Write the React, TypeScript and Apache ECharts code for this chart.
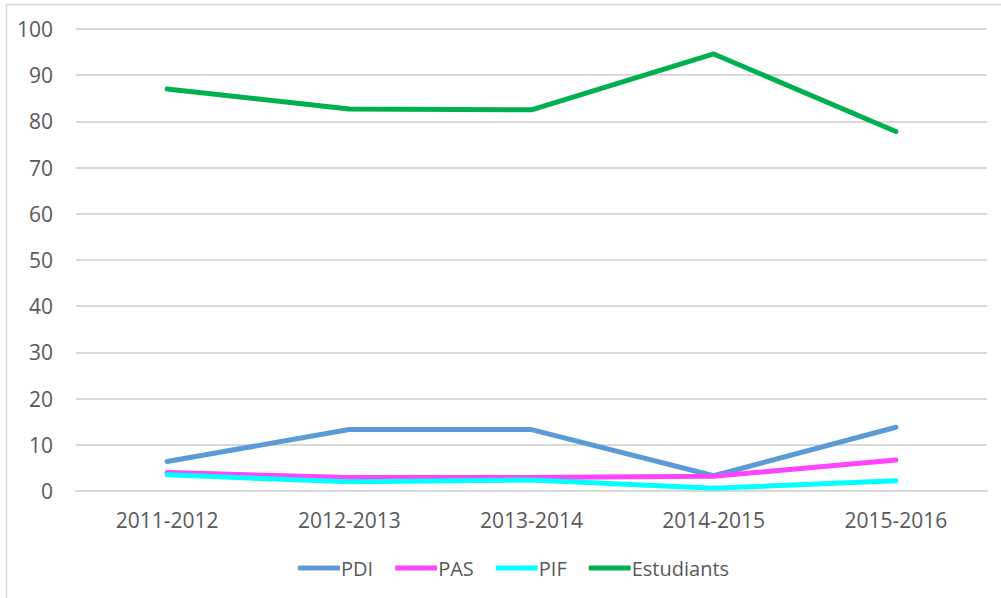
import React, { useEffect, useRef } from "react";
import * as echarts from "echarts";

const categories = ["2011-2012", "2012-2013", "2013-2014", "2014-2015", "2015-2016"];
const pdi = [6.4, 13.3, 13.3, 3.3, 13.8];
const pas = [4.0, 2.9, 2.9, 3.2, 6.7];
const pif = [3.5, 2.0, 2.4, 0.6, 2.2];
const estudiants = [87.0, 82.7, 82.5, 94.6, 77.8];
const seriesNames = ["PDI", "PAS", "PIF", "Estudiants"];
const seriesColors = ["#5b9bd5", "#ff44ff", "#00ffff", "#00b050"];

const FONT = "'Open Sans', sans-serif";

export default function App() {
  const ref = useRef<HTMLDivElement>(null);
  useEffect(() => {
    if (!ref.current) return;
    const chart = echarts.init(ref.current, null, { renderer: "svg" });
    const values = [pdi, pas, pif, estudiants];
    chart.setOption({
      animation: false,
      backgroundColor: "#ffffff",
      textStyle: { fontFamily: FONT },
      graphic: [
        {
          type: "rect",
          shape: { x: 6.5, y: 4.5, width: 1200, height: 800 },
          style: { fill: "none", stroke: "#d9d9d9", lineWidth: 1.5 },
          silent: true,
        },
      ],
      grid: { left: 76, right: 14, top: 29, bottom: 107, containLabel: false },
      legend: {
        left: 293,
        top: 553,
        itemWidth: 42,
        itemHeight: 5,
        itemGap: 22,
        icon: "roundRect",
        textStyle: { color: "#595959", fontSize: 20, fontFamily: FONT, padding: [0, 0, 0, -4] },
        data: seriesNames.map((name, i) => ({ name, itemStyle: { color: seriesColors[i] } })),
      },
      xAxis: {
        type: "category",
        data: categories,
        boundaryGap: true,
        axisLine: { show: true, lineStyle: { color: "#d9d9d9", width: 2 } },
        axisTick: { show: false },
        axisLabel: { color: "#595959", fontSize: 21, margin: 18, fontFamily: FONT },
        splitLine: { show: false },
      },
      yAxis: {
        type: "value",
        min: 0,
        max: 100,
        interval: 10,
        axisLine: { show: false },
        axisTick: { show: false },
        axisLabel: { color: "#595959", fontSize: 21, margin: 23, fontFamily: FONT },
        splitLine: { show: true, lineStyle: { color: "#d9d9d9", width: 2 } },
      },
      series: seriesNames.map((name, i) => ({
        name,
        type: "line",
        data: values[i],
        symbol: "none",
        color: seriesColors[i],
        lineStyle: { color: seriesColors[i], width: 5, cap: "round", join: "round" },
      })),
    });
    return () => chart.dispose();
  }, []);
  return <div ref={ref} style={{ width: 1001, height: 598, position: "absolute", left: 0, top: 0 }} />;
}
